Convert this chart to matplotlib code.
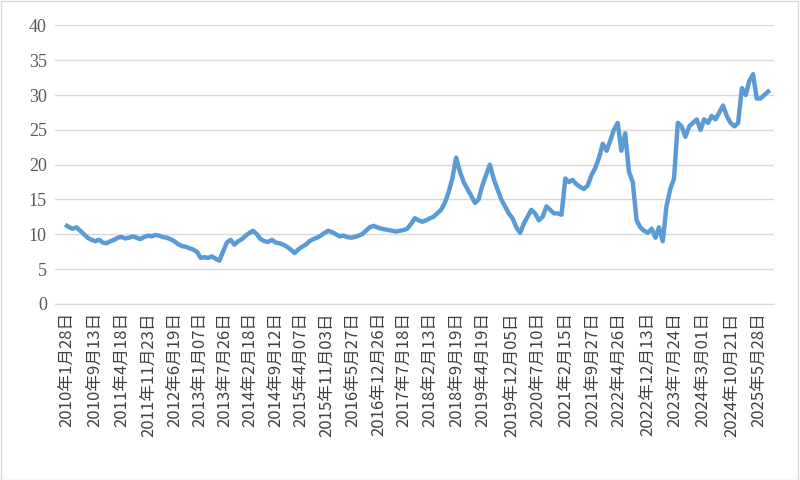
import matplotlib
matplotlib.use("Agg")
import matplotlib.pyplot as plt
import pandas as pd

values = [
 11.2,11,10.8,11,10.5,10,9.5,9.2,9,9.2,8.8,8.7,
 9,9.2,9.5,9.6,9.4,9.5,9.7,9.5,9.3,9.6,9.8,9.7,
 9.9,9.8,9.6,9.5,9.3,9,8.6,8.3,8.2,8,7.8,7.5,
 6.6,6.7,6.6,6.8,6.5,6.2,7.5,8.8,9.2,8.5,9,9.3,
 9.8,10.2,10.5,10,9.3,9,8.9,9.2,8.8,8.7,8.5,8.2,
 7.8,7.3,7.8,8.2,8.5,9,9.3,9.5,9.8,10.2,10.5,10.3,
 10,9.7,9.8,9.6,9.5,9.6,9.8,10,10.5,11,11.2,11,
 10.8,10.7,10.6,10.5,10.4,10.5,10.6,10.8,11.5,12.3,12,11.8,
 12,12.3,12.5,13,13.5,14.5,16,18,21,19,17.5,16.5,
 15.5,14.5,15,17,18.5,20,18,16.5,15,14,13,12.3,
 11,10.2,11.5,12.5,13.5,13,12,12.5,14,13.5,13,13,
 12.8,18,17.5,17.8,17.2,16.8,16.5,17,18.5,19.5,21,23,
 22,23.5,25,26,22,24.5,19,17.5,12,11,10.5,10.2,
 10.8,9.5,11,9,14,16.5,18,26,25.5,24,25.5,26,
 26.5,25,26.5,26,27,26.5,27.5,28.5,27,26,25.5,26,
 31,30,32,33,29.5,29.5,30,30.5,
]
dates = pd.date_range("2010-01-28", periods=len(values), freq="MS") + pd.Timedelta(days=14)
dates = dates.insert(0, pd.Timestamp("2010-01-28"))[:len(values)]

tick_labels = ["2010年1月28日","2010年9月13日","2011年4月18日","2011年11月23日","2012年6月19日",
 "2013年1月07日","2013年7月26日","2014年2月18日","2014年9月12日","2015年4月07日","2015年11月03日",
 "2016年5月27日","2016年12月26日","2017年7月18日","2018年2月13日","2018年9月19日","2019年4月19日",
 "2019年12月05日","2020年7月10日","2021年2月15日","2021年9月27日","2022年4月26日","2022年12月13日",
 "2023年7月24日","2024年3月01日","2024年10月21日","2025年5月28日"]
tick_dates = [pd.Timestamp(s.replace("年","-").replace("月","-").replace("日","")) for s in tick_labels]

fig = plt.figure(figsize=(8, 4.8), dpi=100)
fig.patches.append(plt.Rectangle((0.001, 0.001), 0.997, 0.997, transform=fig.transFigure,
                                 fill=False, edgecolor="#D9D9D9", linewidth=1))
ax = fig.add_axes([0.069, 0.367, 0.899, 0.58])
ax.plot(dates, values, color="#5B9BD5", linewidth=3.2, solid_joinstyle="round")
ax.set_ylim(0, 40)
ax.set_yticks(range(0, 41, 5))
ax.set_xlim(pd.Timestamp("2009-10-25"), pd.Timestamp("2025-10-05"))
ax.set_xticks(tick_dates)
ax.set_xticklabels(tick_labels, rotation=90, family=["Noto Sans CJK JP", "DejaVu Sans"], fontsize=12, color="#404040")
for t in ax.get_yticklabels():
    t.set_family("Liberation Serif"); t.set_fontsize(13); t.set_color("#595959")
ax.grid(axis="y", color="#D9D9D9", linewidth=1)
ax.set_axisbelow(True)
for s in ["top", "right", "left"]:
    ax.spines[s].set_visible(False)
ax.spines["bottom"].set_color("#D9D9D9")
ax.tick_params(length=0, pad=6)
fig.savefig("out.png", dpi=100)
